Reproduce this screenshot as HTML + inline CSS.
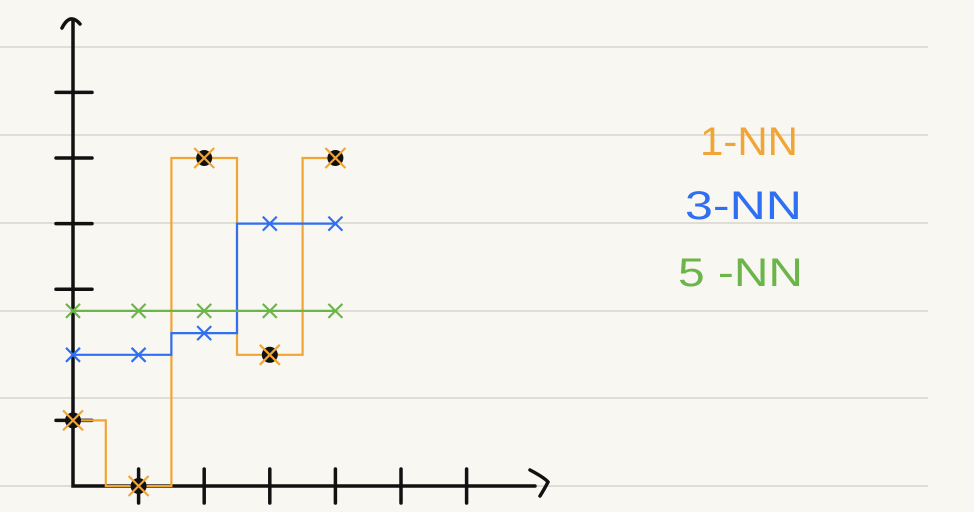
<!DOCTYPE html>
<html><head><meta charset="utf-8"><style>
body{margin:0;background:#f8f7f2;}
svg{display:block}
text{font-family:"Liberation Sans",sans-serif;font-weight:300}
</style></head><body>
<svg width="974" height="512" id="c">
<g id="rules"></g>
<g id="axes" stroke="#111" stroke-width="3.5" fill="none" stroke-linecap="round">
<path d="M73 20 L73 486 L535 486"/>
<path d="M62 28 Q70 12 80 24"/>
<path d="M530 470 Q545 478 548 482 Q545 488 540 496"/>
</g>
<g id="ticks" stroke="#111" stroke-width="3.5" stroke-linecap="round"></g>
<g id="series"></g>
<g font-size="40">
<text x="700" y="155" fill="#f0a535" textLength="98" lengthAdjust="spacingAndGlyphs">1-NN</text>
<text x="685" y="219" fill="#2f6ff2" textLength="117" lengthAdjust="spacingAndGlyphs">3-NN</text>
<text x="678" y="286" fill="#6bb54a" textLength="125" lengthAdjust="spacingAndGlyphs">5 -NN</text>
</g>
</svg>
<script>
const xs=[0,1,2,3,4];
const nn1=[1,0,5,2,5];
const nn3=[2,2,2.33,4,4];
const nn5=[2.67,2.67,2.67,2.67,2.67];
const yTicks=[1,3,4,5,6];
const xTicks=[1,2,3,4,5,6];
const X=v=>73+v*65.6, Y=v=>486-v*65.6;
const NS='http://www.w3.org/2000/svg';
function mk(t,a,p){const e=document.createElementNS(NS,t);for(const k in a)e.setAttribute(k,a[k]);p.appendChild(e);return e;}
const rules=document.getElementById('rules');
[47,135,223,311,398,486].forEach(y=>{const l=mk('line',{x1:0,x2:928,y1:y,y2:y,stroke:'#cfcdc6','stroke-width':1.3},rules);

});
const tk=document.getElementById('ticks');
yTicks.forEach(v=>{const l=mk('line',{x1:56,x2:92,y1:Y(v),y2:Y(v)},tk);

});
xTicks.forEach(v=>{const l=mk('line',{x1:X(v),x2:X(v),y1:469,y2:503},tk);

});
const sg=document.getElementById('series');
function step(vals,color,name,dots){
 let d='M'+X(xs[0])+' '+Y(vals[0]);
 for(let i=1;i<xs.length;i++){const m=X((xs[i-1]+xs[i])/2);d+=' H'+m+' V'+Y(vals[i]);}
 d+=' H'+X(xs[xs.length-1]);
 const p=mk('path',{d:d,stroke:color,'stroke-width':2.2,fill:'none'},sg);
 
 
 xs.forEach((x,i)=>{const cx=X(x),cy=Y(vals[i]);
  if(dots){const c=mk('circle',{cx:cx,cy:cy,r:8,fill:'#111'},sg);
   
   }
  const s=dots?10:7;
  const m=mk('path',{d:`M${cx-s} ${cy-s}L${cx+s} ${cy+s}M${cx+s} ${cy-s}L${cx-s} ${cy+s}`,stroke:color,'stroke-width':2.2},sg);
  
  });
}
step(nn1,'#f0a535','nn1',true);
step(nn3,'#2f6ff2','nn3',false);
step(nn5,'#6bb54a','nn5',false);
</script>
</body></html>
